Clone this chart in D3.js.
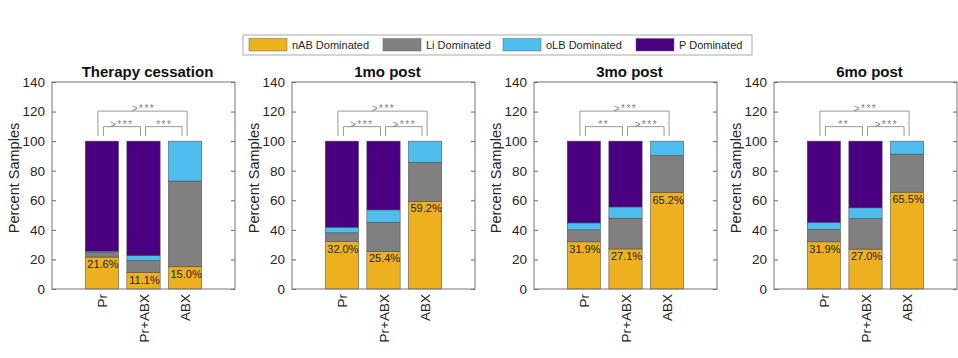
<!DOCTYPE html>
<html>
<head>
<meta charset="utf-8">
<script src="https://cdn.jsdelivr.net/npm/d3@7"></script>
<style>
  body { margin: 0; background: #fff; }
  text { font-family: Arial, "Liberation Sans", sans-serif; }
</style>
</head>
<body>
<div id="chart"></div>
<script>
// data
var panels = ["Therapy cessation", "1mo post", "3mo post", "6mo post"]
var groups = ["Pr", "Pr+ABX", "ABX"]
var series = ["nAB Dominated", "Li Dominated", "oLB Dominated", "P Dominated"]
var colors = ["#EDB120", "#808080", "#4DBEEE", "#4B0082"]

// per panel, per group: nAB, Li, oLB, P (percent)
var nAB = [[21.6, 11.1, 15.0], [32.0, 25.4, 59.2], [31.9, 27.1, 65.2], [31.9, 27.0, 65.5]]
var Li  = [[3.1, 8.2, 58.0],  [6.0, 19.8, 26.4], [8.1, 20.8, 25.1], [8.5, 20.6, 25.7]]
var oLB = [[0.9, 3.4, 27.0],  [3.8, 8.3, 14.4],  [4.7, 7.6, 9.7],   [4.7, 7.3, 8.8]]
var P   = [[74.4, 77.3, 0.0], [58.2, 46.5, 0.0], [55.3, 44.5, 0.0], [54.9, 45.1, 0.0]]

var sigOuter = [">***", ">***", ">***", ">***"]
var sigLeft  = [">***", ">***", "**", "**"]
var sigRight = ["***", ">***", ">***", ">***"]

var yTicks = [0, 20, 40, 60, 80, 100, 120, 140]

var W = 958, H = 358
var svg = d3.select("#chart").append("svg").attr("width", W).attr("height", H)

var panelX = [52, 292, 534, 774]
var pw = 183, plotTop = 82, plotBottom = 289

var y = d3.scaleLinear().domain([0, 140]).range([plotBottom, plotTop])
var fmt = d3.format(".1f")

panels.forEach(function (title, p) {
  var x0 = panelX[p]
  var x = d3.scaleLinear().domain([-0.2, 4.2]).range([x0, x0 + pw])
  var g = svg.append("g")

  var rows = groups.map(function (grp, i) {
    return { group: grp, pos: i + 1, nAB: nAB[p][i], Li: Li[p][i], oLB: oLB[p][i], P: P[p][i] }
  })
  var stack = d3.stack().keys(["nAB", "Li", "oLB", "P"])(rows)

  // bars
  var bw = x(0.8) - x(0)
  stack.forEach(function (layer, k) {
    g.selectAll(null).data(layer.filter(function (d) { return d[1] - d[0] > 0 }))
      .enter().append("rect")
      .attr("x", function (d) { return x(d.data.pos) - bw / 2 })
      .attr("width", bw)
      .attr("y", function (d) { return y(d[1]) })
      .attr("height", function (d) { return y(d[0]) - y(d[1]) })
      .attr("fill", colors[k])
      .attr("stroke", "#444")
      .attr("stroke-width", 0.5)
  })

  // percentage labels
  g.selectAll(null).data(rows).enter().append("text")
    .attr("x", function (d) { return x(d.pos) + 1 })
    .attr("y", function (d) { return y(d.nAB) + 11 })
    .attr("text-anchor", "middle")
    .attr("font-size", 11)
    .attr("fill", "#222")
    .text(function (d) { return fmt(d.nAB) + "%" })

  // axes box
  var yAxis = d3.axisLeft(y).tickValues(yTicks).tickSize(-4).tickPadding(7)
  var ya = g.append("g").attr("transform", "translate(" + x0 + ",0)").call(yAxis)
  ya.select(".domain").remove()
  ya.selectAll("line").attr("stroke", "#666")
  ya.selectAll("text").attr("font-size", 13.5).attr("fill", "#262626")

  var yr = g.append("g").attr("transform", "translate(" + (x0 + pw) + ",0)")
    .call(d3.axisRight(y).tickValues(yTicks).tickSize(-4).tickFormat(""))
  yr.select(".domain").remove()
  yr.selectAll("line").attr("stroke", "#666")

  var xa = g.append("g").attr("transform", "translate(0," + plotBottom + ")")
    .call(d3.axisBottom(x).tickValues([1, 2, 3]).tickSize(0).tickFormat(function (d) { return groups[d - 1] }))
  xa.select(".domain").remove()
  xa.selectAll("text")
    .attr("font-size", 13.5).attr("fill", "#262626")
    .attr("transform", "rotate(-90)")
    .attr("text-anchor", "end")
    .attr("x", -5).attr("y", 0).attr("dy", "0.35em")

  g.append("rect").attr("x", x0).attr("y", plotTop).attr("width", pw).attr("height", plotBottom - plotTop)
    .attr("fill", "none").attr("stroke", "#777").attr("stroke-width", 1)

  // title
  g.append("text").attr("x", x0 + pw / 2 + 4).attr("y", 77)
    .attr("text-anchor", "middle").attr("font-size", 15).attr("font-weight", "bold")
    .attr("fill", "#111").text(title)

  // y label
  g.append("text")
    .attr("transform", "translate(" + (x0 - 33) + "," + 178 + ") rotate(-90)")
    .attr("text-anchor", "middle").attr("font-size", 14.5).attr("fill", "#262626")
    .text("Percent Samples")

  // significance brackets
  var yOut = y(120.3), yIn = y(109.8), yLow = y(103.5)
  var br = g.append("g").attr("stroke", "#999").attr("stroke-width", 1).attr("fill", "none")
  function bracket(xa1, xa2, yh) {
    br.append("path").attr("d", "M" + xa1 + "," + yLow + "V" + yh + "H" + xa2 + "V" + yLow)
  }
  bracket(x(1) - 4, x(3) + 2, yOut)
  bracket(x(1) + 1.5, x(2) - 3, yIn)
  bracket(x(2) + 2, x(3) - 3, yIn)

  var sig = [
    { t: sigOuter[p], cx: (x(1) + x(3)) / 2, cy: yOut },
    { t: sigLeft[p], cx: (x(1) + x(2)) / 2 - 1, cy: yIn },
    { t: sigRight[p], cx: (x(2) + x(3)) / 2, cy: yIn }
  ]
  g.selectAll(null).data(sig).enter().append("text")
    .attr("x", function (d) { return d.cx }).attr("y", function (d) { return d.cy + 1 })
    .attr("text-anchor", "middle").attr("font-size", 10).attr("fill", "#808080")
    .attr("letter-spacing", 1.5)
    .text(function (d) { return d.t })
})

// legend
var lg = svg.append("g")
lg.append("rect").attr("x", 243).attr("y", 35).attr("width", 509).attr("height", 20)
  .attr("fill", "#fff").attr("stroke", "#aaa")
var lx = [249, 383, 503, 636]
series.forEach(function (s, i) {
  lg.append("rect").attr("x", lx[i]).attr("y", 38.5).attr("width", 38).attr("height", 12.5)
    .attr("fill", colors[i]).attr("stroke", "#666").attr("stroke-width", 0.5)
  lg.append("text").attr("x", lx[i] + 43).attr("y", 49).attr("font-size", 11)
    .attr("fill", "#262626").text(s)
})
</script>
</body>
</html>
